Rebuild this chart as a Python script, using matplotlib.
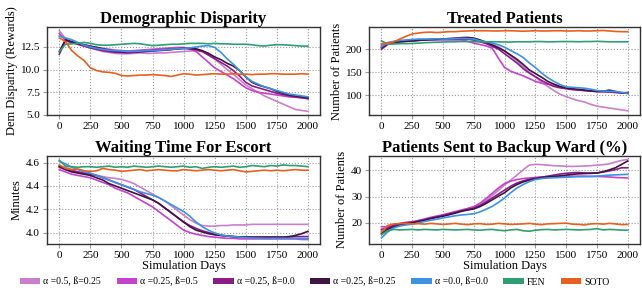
import matplotlib

matplotlib.use("Agg")
import matplotlib.pyplot as plt
import numpy as np
from matplotlib.patches import Patch

plt.rcParams["font.family"] = ["Liberation Serif", "DejaVu Serif"]

days = np.arange(0, 2001, 50)

labels = ["α =0.5, ß=0.25", "α =0.25, ß=0.5", "α =0.25, ß=0.0", "α =0.25, ß=0.25",
          "α =0.0, ß=0.0", "FEN", "SOTO"]
colors = ["#c97fcb", "#c443cc", "#8a1c88", "#3f1342", "#3c92e3", "#2f9e72", "#e8601f"]

# Demographic disparity (rewards)
dem = {
    "a05_b025": [14.3, 13.4, 13.0, 12.8, 12.6, 12.4, 12.2, 12.0, 11.9, 11.8, 11.75, 11.75, 11.8, 11.85,
                 11.8, 11.8, 11.85, 11.85, 11.9, 11.95, 12.0, 12.05, 12.1, 12.0, 11.7, 11.2, 10.6, 10.0,
                 9.5, 8.9, 8.3, 7.9, 7.5, 7.1, 6.8, 6.5, 6.2, 5.9, 5.6, 5.5, 5.4],
    "a025_b05": [14.0, 13.2, 13.0, 12.85, 12.7, 12.55, 12.45, 12.35, 12.25, 12.15, 12.1, 12.05, 12.1,
                 12.15, 12.2, 12.25, 12.3, 12.35, 12.4, 12.45, 12.45, 12.3, 12.0, 11.4, 10.8, 10.2, 9.8,
                 9.4, 9.0, 8.5, 8.0, 7.7, 7.5, 7.4, 7.3, 7.2, 7.1, 7.0, 6.95, 6.9, 6.8],
    "a025_b0": [11.7, 13.2, 13.0, 12.8, 12.6, 12.4, 12.25, 12.1, 12.0, 11.9, 11.9, 11.85, 11.9, 11.95,
                12.0, 12.05, 12.1, 12.15, 12.2, 12.3, 12.35, 12.3, 12.2, 12.0, 11.6, 11.2, 10.8, 10.4,
                9.9, 9.3, 8.6, 8.2, 8.0, 7.8, 7.6, 7.4, 7.25, 7.1, 7.0, 6.9, 6.8],
    "a025_b025": [12.0, 13.3, 13.1, 12.9, 12.75, 12.6, 12.45, 12.3, 12.15, 12.05, 11.95, 11.95, 11.95,
                  12.0, 12.05, 12.1, 12.15, 12.2, 12.25, 12.3, 12.35, 12.35, 12.3, 12.1, 11.8, 11.4,
                  11.1, 10.7, 10.4, 9.9, 9.2, 8.6, 8.3, 8.1, 7.9, 7.6, 7.4, 7.2, 7.1, 7.0, 6.9],
    "a0_b0": [13.7, 13.5, 13.3, 13.0, 12.7, 12.5, 12.35, 12.25, 12.15, 12.1, 12.05, 12.0, 12.0, 12.05,
              12.1, 12.1, 12.15, 12.2, 12.25, 12.3, 12.35, 12.4, 12.5, 12.6, 12.65, 12.45, 11.9, 11.2,
              10.6, 9.9, 9.2, 8.7, 8.4, 8.1, 7.9, 7.7, 7.5, 7.3, 7.2, 7.1, 7.0],
    "fen": [12.0, 12.8, 12.85, 12.9, 13.0, 12.9, 12.75, 12.7, 12.7, 12.75, 12.8, 12.85, 12.9, 12.85,
            12.75, 12.65, 12.7, 12.75, 12.8, 12.8, 12.85, 12.9, 12.9, 12.9, 12.85, 12.9, 12.85, 12.85,
            12.8, 12.8, 12.8, 12.75, 12.65, 12.6, 12.7, 12.75, 12.75, 12.7, 12.65, 12.6, 12.6],
    "soto": [13.5, 13.1, 12.1, 11.5, 11.0, 10.2, 9.9, 9.75, 9.7, 9.6, 9.35, 9.3, 9.35, 9.4, 9.4, 9.45,
             9.4, 9.35, 9.25, 9.4, 9.55, 9.5, 9.4, 9.45, 9.5, 9.55, 9.5, 9.5, 9.55, 9.5, 9.5, 9.45,
             9.5, 9.5, 9.55, 9.55, 9.5, 9.5, 9.5, 9.55, 9.5],
}

# Treated patients
treated = {
    "a05_b025": [212, 214, 216, 217, 218, 219, 219.5, 220, 220.5, 221, 221.5, 222, 222, 222.5, 222, 220,
                 217, 214, 210, 205, 196, 185, 175, 162, 150, 140, 128, 119, 110, 102, 97, 92, 88, 85,
                 80, 76, 74, 72, 70, 68, 66],
    "a025_b05": [207, 212, 215, 217, 218, 219, 219.5, 220, 220, 220, 220, 220, 220, 220, 217, 213, 210,
                 207, 202, 180, 160, 152, 147, 142, 136, 130, 126, 124, 121, 118, 115, 113, 112, 110,
                 109, 108, 107, 107, 106, 105, 106],
    "a025_b0": [200, 210, 214, 216, 217, 218, 219, 220, 221, 221.5, 222, 222, 222, 222, 222, 220, 216,
                212, 206, 200, 190, 180, 170, 158, 148, 140, 132, 125, 119, 116, 114, 112, 111, 110,
                109, 108, 108, 107, 106, 105, 105],
    "a025_b025": [203, 212, 215, 216, 217, 218, 219, 220, 221, 221.5, 222, 223, 224, 225, 225.5, 224,
                  220, 215, 209, 203, 196, 187, 178, 167, 155, 147, 139, 130, 124, 119, 115.5, 114,
                  112.5, 111, 109, 108, 108.5, 111, 108, 105, 104],
    "a0_b0": [205, 214, 217, 219, 220, 221, 222, 222, 222, 222.5, 222, 222, 223, 223.5, 223, 222, 218,
              216, 213, 209.5, 204, 197, 190, 182, 170, 160, 148, 138, 130, 123, 118, 117, 116, 115,
              113, 110, 109, 108.5, 108, 106, 104],
    "fen": [218, 211, 211, 212, 212, 212.5, 213, 214, 214.5, 215, 215.5, 216, 216, 216.5, 216.5, 216,
            216, 216, 216, 216, 215.5, 215.5, 216, 216, 216, 216.5, 216.5, 216, 216, 216.5, 216.5,
            216.5, 216, 216.5, 216.5, 217, 216.5, 216, 216, 216, 216],
    "soto": [211, 212, 216, 222, 228, 233, 235, 236.5, 237, 236, 237, 238, 238, 239, 239.5, 240, 240,
             240, 239.5, 239.5, 240, 240, 239.5, 239, 239.5, 240, 239.5, 239.5, 240, 240, 239.5, 239.5,
             240, 239.5, 239.5, 240, 240.5, 239.5, 238.5, 238, 238],
}

# Waiting time for escort (minutes)
waiting = {
    "a05_b025": [4.57, 4.56, 4.54, 4.52, 4.51, 4.5, 4.49, 4.48, 4.47, 4.465, 4.455, 4.44, 4.42, 4.39,
                 4.36, 4.33, 4.3, 4.27, 4.23, 4.19, 4.15, 4.11, 4.08, 4.06, 4.055, 4.055, 4.06, 4.06,
                 4.065, 4.065, 4.065, 4.07, 4.07, 4.07, 4.07, 4.07, 4.07, 4.07, 4.07, 4.07, 4.07],
    "a025_b05": [4.54, 4.52, 4.5, 4.49, 4.48, 4.47, 4.45, 4.43, 4.41, 4.38, 4.36, 4.34, 4.31, 4.28,
                 4.25, 4.22, 4.18, 4.14, 4.1, 4.06, 4.02, 4.0, 3.985, 3.975, 3.965, 3.96, 3.955, 3.95,
                 3.95, 3.945, 3.945, 3.945, 3.945, 3.945, 3.945, 3.945, 3.945, 3.945, 3.945, 3.94, 3.94],
    "a025_b0": [4.56, 4.54, 4.53, 4.52, 4.51, 4.5, 4.49, 4.47, 4.45, 4.43, 4.41, 4.39, 4.37, 4.34,
                4.31, 4.28, 4.25, 4.21, 4.17, 4.13, 4.09, 4.06, 4.035, 4.015, 4.0, 3.985, 3.975, 3.97,
                3.965, 3.962, 3.96, 3.96, 3.96, 3.96, 3.96, 3.96, 3.96, 3.96, 3.965, 3.965, 3.965],
    "a025_b025": [4.57, 4.54, 4.52, 4.51, 4.5, 4.49, 4.47, 4.45, 4.42, 4.4, 4.38, 4.36, 4.34, 4.32,
                  4.3, 4.28, 4.25, 4.21, 4.17, 4.13, 4.09, 4.05, 4.02, 4.005, 3.99, 3.98, 3.975, 3.97,
                  3.965, 3.962, 3.96, 3.96, 3.96, 3.96, 3.96, 3.96, 3.96, 3.965, 3.975, 3.99, 4.01],
    "a0_b0": [4.61, 4.59, 4.56, 4.54, 4.52, 4.51, 4.49, 4.47, 4.45, 4.43, 4.41, 4.39, 4.37, 4.35,
              4.335, 4.32, 4.3, 4.27, 4.24, 4.21, 4.18, 4.14, 4.09, 4.05, 4.02, 3.995, 3.98, 3.97,
              3.965, 3.96, 3.955, 3.953, 3.952, 3.95, 3.95, 3.95, 3.95, 3.95, 3.95, 3.948, 3.947],
    "fen": [4.62, 4.57, 4.565, 4.56, 4.565, 4.565, 4.56, 4.565, 4.57, 4.56, 4.565, 4.56, 4.57, 4.565,
            4.56, 4.565, 4.57, 4.565, 4.56, 4.565, 4.57, 4.56, 4.565, 4.55, 4.56, 4.565, 4.56, 4.565,
            4.57, 4.56, 4.565, 4.575, 4.57, 4.565, 4.575, 4.57, 4.58, 4.575, 4.575, 4.57, 4.565],
    "soto": [4.58, 4.55, 4.54, 4.545, 4.53, 4.525, 4.53, 4.55, 4.54, 4.535, 4.525, 4.53, 4.535, 4.54,
             4.53, 4.535, 4.54, 4.535, 4.53, 4.53, 4.54, 4.535, 4.53, 4.535, 4.54, 4.535, 4.53, 4.535,
             4.54, 4.53, 4.52, 4.525, 4.53, 4.535, 4.53, 4.535, 4.53, 4.535, 4.54, 4.535, 4.535],
}

# Patients sent to backup ward (%)
backup = {
    "a05_b025": [17.0, 18.0, 19.0, 19.5, 19.9, 20.2, 20.6, 21.2, 21.8, 22.3, 22.8, 23.4, 24.0, 24.6,
                 25.3, 26.0, 27.0, 28.6, 30.5, 32.4, 34.5, 36.3, 38.2, 40.2, 42.0, 42.3, 42.2, 42.0,
                 41.8, 41.7, 41.6, 41.5, 41.6, 41.7, 41.8, 42.0, 42.2, 42.5, 43.2, 43.8, 44.2],
    "a025_b05": [18.5, 18.5, 19.2, 19.8, 20.2, 20.4, 20.9, 21.5, 22.1, 22.6, 23.1, 23.7, 24.3, 24.9,
                 25.5, 26.2, 27.5, 29.3, 31.3, 33.3, 35.0, 35.9, 36.5, 36.9, 37.1, 37.3, 37.5, 37.6,
                 37.7, 37.7, 37.8, 37.8, 37.8, 37.8, 37.7, 37.7, 37.6, 37.5, 37.3, 37.2, 37.1],
    "a025_b0": [17.5, 18.0, 19.0, 19.6, 20.0, 20.2, 20.7, 21.2, 21.8, 22.3, 22.8, 23.4, 24.0, 24.6,
                25.1, 25.6, 26.6, 28.0, 29.5, 31.0, 32.5, 34.0, 35.2, 36.0, 36.6, 37.0, 37.4, 37.8,
                38.2, 38.6, 38.9, 39.1, 39.2, 39.0, 38.9, 39.0, 39.4, 39.8, 40.3, 41.0, 41.0],
    "a025_b025": [16.0, 17.5, 18.5, 19.2, 19.6, 20.0, 20.5, 21.0, 21.6, 22.1, 22.5, 23.1, 23.7, 24.4,
                  24.9, 25.3, 26.2, 27.4, 28.8, 30.2, 31.5, 33.3, 34.6, 35.6, 36.3, 36.8, 37.2, 37.5,
                  37.7, 37.9, 38.2, 38.5, 38.7, 38.8, 38.9, 39.0, 39.5, 40.2, 41.0, 42.3, 43.6],
    "a0_b0": [14.3, 16.5, 18.1, 18.8, 19.2, 19.5, 20.0, 20.5, 21.0, 21.4, 21.9, 22.3, 22.7, 23.0,
              23.2, 23.5, 24.2, 25.2, 26.3, 27.8, 29.5, 31.5, 33.3, 34.6, 35.7, 36.5, 36.9, 37.1,
              37.2, 37.3, 37.4, 37.5, 37.6, 37.6, 37.7, 37.8, 38.0, 38.2, 38.3, 38.4, 38.5],
    "fen": [15.5, 17.0, 17.5, 17.3, 17.4, 17.5, 17.3, 17.5, 17.4, 17.3, 17.5, 17.4, 17.3, 17.4, 17.5,
            17.3, 17.2, 17.4, 17.5, 17.2, 17.0, 17.3, 17.5, 17.0, 16.8, 17.2, 17.4, 17.5, 17.3, 17.4,
            17.5, 17.4, 17.3, 17.4, 17.5, 17.8, 17.3, 17.5, 17.4, 17.2, 17.2],
    "soto": [16.5, 19.0, 19.6, 19.7, 19.8, 19.6, 19.7, 19.5, 19.8, 19.6, 19.4, 19.6, 19.8, 19.5, 19.3,
             19.6, 19.7, 19.4, 19.5, 19.8, 19.6, 19.4, 19.5, 19.6, 19.8, 19.5, 19.3, 19.6, 19.7, 19.8,
             19.9, 19.5, 19.4, 19.2, 19.6, 19.7, 19.5, 19.8, 19.6, 19.3, 19.4],
}

keys = ["a05_b025", "a025_b05", "a025_b0", "a025_b025", "a0_b0", "fen", "soto"]

panels = [
    (dem, "Demographic Disparity", "Dem Disparity (Rewards)", (5.0, 14.7), [5.0, 7.5, 10.0, 12.5], "{:.1f}"),
    (treated, "Treated Patients", "Number of Patients", (57, 248), [100, 150, 200], "{:.0f}"),
    (waiting, "Waiting Time For Escort", "Minutes", (3.905, 4.657), [4.0, 4.2, 4.4, 4.6], "{:.1f}"),
    (backup, "Patients Sent to Backup Ward (%)", "Number of Patients", (12.1, 45.5), [20, 30, 40], "{:.0f}"),
]
rects = [
    [0.073, 0.605, 0.426, 0.302],
    [0.575, 0.605, 0.422, 0.302],
    [0.073, 0.163, 0.426, 0.301],
    [0.575, 0.163, 0.422, 0.301],
]

fig = plt.figure(figsize=(6.42, 2.91), dpi=100)
for i, (data, title, ylab, ylim, yt, fmt) in enumerate(panels):
    ax = fig.add_axes(rects[i])
    for k, c in zip(keys, colors):
        ax.plot(days, data[k], color=c, lw=1.2)
    ax.set_xlim(-100, 2100)
    ax.set_ylim(*ylim)
    ax.set_xticks(range(0, 2001, 250))
    ax.set_yticks(yt)
    ax.set_yticklabels([fmt.format(v) for v in yt])
    ax.grid(True, ls=":", color="#999999", lw=0.8)
    ax.tick_params(labelsize=8, length=3, color="#999999", pad=2)
    for s in ax.spines.values():
        s.set_color("#333333")
        s.set_linewidth(1.0)
    ax.set_title(title, fontsize=12, fontweight="bold", pad=3)
    ax.set_ylabel(ylab, fontsize=9, labelpad=2)
    if i >= 2:
        ax.set_xlabel("Simulation Days", fontsize=9, labelpad=0)

handles = [Patch(facecolor=c, edgecolor="none", label=l) for l, c in zip(labels, colors)]
fig.legend(handles=handles, loc="lower center", bbox_to_anchor=(0.49, -0.015), ncol=7,
           frameon=False, fontsize=7, handlelength=2.1, handleheight=0.5,
           handletextpad=0.3, columnspacing=1.6)

fig.savefig("out.png", dpi=100)
